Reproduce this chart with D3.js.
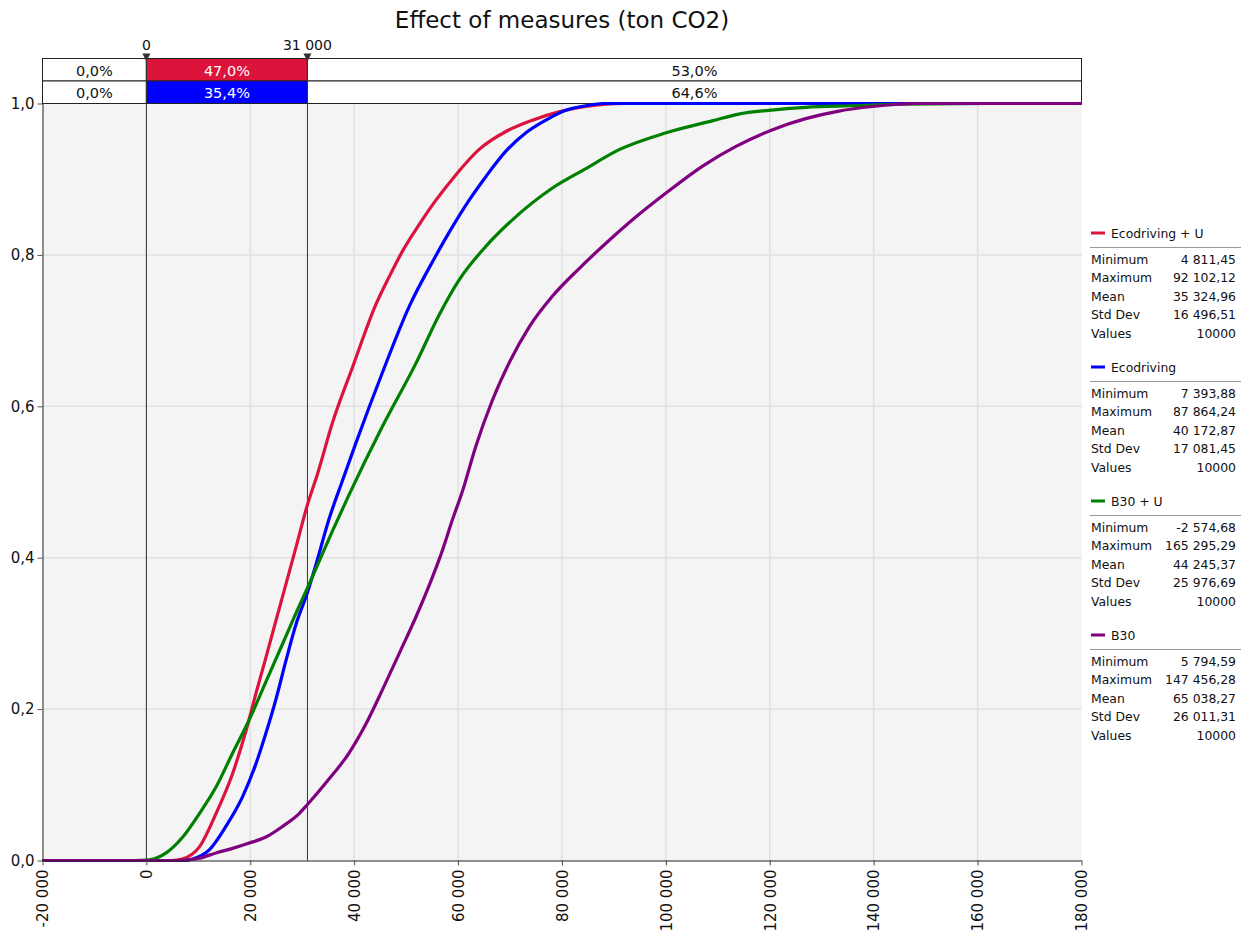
<!DOCTYPE html>
<html>
<head>
<meta charset="utf-8">
<script src="https://cdn.jsdelivr.net/npm/d3@7"></script>
<style>
  body { margin: 0; background: #fff; }
  svg { display: block; font-family: "DejaVu Sans", Tahoma, sans-serif; }
</style>
</head>
<body>
<svg id="chart" width="1247" height="934"></svg>
<script>
// series (ton CO2, cumulative probability)
const seriesNames = ["Ecodriving + U", "Ecodriving", "B30 + U", "B30"];
const seriesColors = ["#dc143c", "#0000ff", "#008000", "#800080"];

const ecoU = [[-20000,0],[4811,0],[6900,0.002],[10200,0.018],[13400,0.062],[16600,0.115],[19200,0.172],[21100,0.221],[23000,0.268],[24900,0.316],[26900,0.366],[28800,0.414],[31000,0.47],[33000,0.512],[35800,0.578],[39700,0.652],[44200,0.735],[46800,0.772],[49300,0.805],[52500,0.84],[55700,0.872],[59600,0.906],[64000,0.939],[69200,0.963],[74300,0.978],[79400,0.989],[84600,0.996],[92102,1],[180000,1]];
const eco = [[-20000,0],[7394,0],[8900,0.002],[12100,0.014],[15300,0.045],[18500,0.084],[21100,0.128],[23000,0.168],[24900,0.212],[26900,0.265],[28800,0.312],[31000,0.354],[32600,0.39],[35200,0.452],[37800,0.503],[40300,0.551],[45400,0.644],[50600,0.732],[55400,0.795],[58900,0.837],[62100,0.872],[65300,0.903],[69200,0.937],[73000,0.961],[76900,0.978],[80700,0.991],[84600,0.997],[87864,1],[180000,1]];
const b30U = [[-20000,0],[-2575,0],[600,0.001],[3800,0.01],[7000,0.031],[10200,0.062],[13400,0.097],[16600,0.142],[19800,0.186],[23000,0.236],[26200,0.286],[29400,0.336],[31000,0.36],[32600,0.385],[35800,0.435],[39000,0.483],[45400,0.573],[51900,0.657],[56300,0.72],[60200,0.767],[65300,0.811],[70400,0.846],[78100,0.888],[84600,0.914],[91000,0.939],[99900,0.961],[108900,0.977],[114000,0.986],[119800,0.991],[126900,0.995],[135800,0.997],[145400,0.999],[165295,1],[180000,1]];
const b30 = [[-20000,0],[5795,0],[8300,0.001],[10200,0.003],[13400,0.01],[16600,0.016],[19800,0.023],[23000,0.031],[26200,0.045],[29400,0.062],[31000,0.074],[34600,0.103],[39000,0.142],[42300,0.181],[45400,0.225],[48700,0.274],[51900,0.322],[55100,0.375],[57000,0.41],[58900,0.45],[60800,0.487],[63400,0.547],[66600,0.608],[69800,0.657],[73700,0.705],[78100,0.745],[83300,0.782],[88400,0.815],[94200,0.85],[99900,0.881],[107000,0.917],[113400,0.943],[120400,0.965],[126900,0.98],[133300,0.99],[139700,0.996],[145000,0.999],[147456,1],[180000,1]];

// legend statistics
const statLabels = ["Minimum", "Maximum", "Mean", "Std Dev", "Values"];
const statsEcoU = ["4 811,45", "92 102,12", "35 324,96", "16 496,51", "10000"];
const statsEco = ["7 393,88", "87 864,24", "40 172,87", "17 081,45", "10000"];
const statsB30U = ["-2 574,68", "165 295,29", "44 245,37", "25 976,69", "10000"];
const statsB30 = ["5 794,59", "147 456,28", "65 038,27", "26 011,31", "10000"];

// delimiters and the band percentages on top
const markers = [0, 31000];
const bandEcoU = [0.0, 47.0, 53.0];
const bandEco = [0.0, 35.4, 64.6];

const xTicks = d3.range(-20000, 180001, 20000);
const yTicks = [0, 0.2, 0.4, 0.6, 0.8, 1.0];

const series = [ecoU, eco, b30U, b30];
const stats = [statsEcoU, statsEco, statsB30U, statsB30];
const bands = [bandEcoU, bandEco];

const loc = d3.formatLocale({decimal: ",", thousands: " ", grouping: [3], currency: ["", ""], minus: "-"});
const fmtX = loc.format(",");
const fmtY = loc.format(".1f");

const svg = d3.select("#chart");
const plotL = 42.5, plotR = 1081.5, plotT = 103.5, plotB = 860.5;

const x = d3.scaleLinear().domain([-20000, 180000]).range([plotL, plotR]);
const y = d3.scaleLinear().domain([0, 1]).range([plotB, plotT]);

// title
svg.append("text")
  .attr("x", 562).attr("y", 28)
  .attr("text-anchor", "middle")
  .style("font-size", "23px").style("fill", "#111")
  .text("Effect of measures (ton CO2)");

// plot background
svg.append("rect")
  .attr("x", plotL).attr("y", plotT)
  .attr("width", plotR - plotL).attr("height", plotB - plotT)
  .style("fill", "#f4f4f4");

// grid
svg.append("g").selectAll("line")
  .data(xTicks.slice(1, -1))
  .join("line")
  .attr("x1", d => x(d)).attr("x2", d => x(d))
  .attr("y1", plotT).attr("y2", plotB + 4)
  .style("stroke", "#e0e0e0").style("stroke-width", 1.5);

svg.append("g").selectAll("line")
  .data(yTicks.slice(1, -1))
  .join("line")
  .attr("x1", plotL).attr("x2", plotR)
  .attr("y1", d => y(d)).attr("y2", d => y(d))
  .style("stroke", "#e0e0e0").style("stroke-width", 1.5);

// band rows above the plot
const rowH = 22.5, rowTop = plotT - 2 * rowH;
const edges = [x.domain()[0], ...markers, x.domain()[1]];
bands.forEach((vals, r) => {
  const g = svg.append("g");
  const segs = vals.map((v, i) => ({v, i, x0: x(edges[i]), x1: x(edges[i + 1])}));
  g.selectAll("rect")
    .data(segs)
    .join("rect")
    .attr("x", d => d.x0).attr("y", rowTop + r * rowH)
    .attr("width", d => d.x1 - d.x0).attr("height", rowH)
    .style("fill", d => d.i === 1 ? seriesColors[r] : "#fff")
    .style("stroke", "#222").style("stroke-width", 1);
  g.selectAll("text")
    .data(segs)
    .join("text")
    .attr("x", d => (d.x0 + d.x1) / 2)
    .attr("y", rowTop + r * rowH + 17)
    .attr("text-anchor", "middle")
    .style("font-size", "14.5px")
    .style("fill", d => d.i === 1 ? "#fff" : "#111")
    .text(d => fmtY(d.v) + "%");
});

// delimiter lines, triangles and labels
svg.append("g").selectAll("line")
  .data(markers)
  .join("line")
  .attr("x1", d => x(d)).attr("x2", d => x(d))
  .attr("y1", rowTop).attr("y2", plotB)
  .style("stroke", "#333").style("stroke-width", 1);

svg.append("g").selectAll("path")
  .data(markers)
  .join("path")
  .attr("d", d => `M${x(d) - 4},${rowTop - 5}L${x(d) + 4},${rowTop - 5}L${x(d)},${rowTop + 3}Z`)
  .style("fill", "#333");

svg.append("g").selectAll("text")
  .data(markers)
  .join("text")
  .attr("x", d => x(d)).attr("y", rowTop - 9)
  .attr("text-anchor", "middle")
  .style("font-size", "14px").style("fill", "#111")
  .text(d => fmtX(d));

// curves
const line = d3.line()
  .x(d => x(d[0]))
  .y(d => y(d[1]))
  .curve(d3.curveMonotoneX);

svg.append("g").selectAll("path")
  .data(series)
  .join("path")
  .attr("d", line)
  .style("fill", "none")
  .style("stroke", (d, i) => seriesColors[i])
  .style("stroke-width", 3.2)
  .style("stroke-linejoin", "round");

// axes
const xAxis = svg.append("g")
  .attr("transform", `translate(0,${plotB})`)
  .call(d3.axisBottom(x).tickValues(xTicks).tickFormat(fmtX).tickSize(5).tickSizeOuter(0));
xAxis.selectAll("text")
  .attr("transform", "rotate(-90)")
  .attr("x", -9).attr("y", 0).attr("dy", "0.35em")
  .style("text-anchor", "end");

const yAxis = svg.append("g")
  .attr("transform", `translate(${plotL},0)`)
  .call(d3.axisLeft(y).tickValues(yTicks).tickFormat(fmtY).tickSize(5).tickSizeOuter(0));

[xAxis, yAxis].forEach(a => {
  a.select(".domain").style("stroke", "#222");
  a.selectAll(".tick line").style("stroke", "#555");
  a.selectAll("text").style("font-size", "15px").style("font-family", "DejaVu Sans").style("fill", "#111");
});

// legend
const legend = svg.append("g").attr("transform", "translate(1090,233)");
seriesNames.forEach((name, i) => {
  const g = legend.append("g").attr("transform", `translate(0,${i * 134})`);
  g.append("line")
    .attr("x1", 1).attr("x2", 15).attr("y1", 0).attr("y2", 0)
    .style("stroke", seriesColors[i]).style("stroke-width", 3);
  g.append("text")
    .attr("x", 21).attr("y", 4.5)
    .style("font-size", "12.4px").style("fill", "#111")
    .text(name);
  g.append("line")
    .attr("x1", 0).attr("x2", 151).attr("y1", 14.5).attr("y2", 14.5)
    .style("stroke", "#999").style("stroke-width", 1);
  statLabels.forEach((lab, j) => {
    g.append("text")
      .attr("x", 1).attr("y", 30.5 + j * 18.5)
      .style("font-size", "12.4px").style("fill", "#111")
      .text(lab);
    g.append("text")
      .attr("x", 146).attr("y", 30.5 + j * 18.5)
      .attr("text-anchor", "end")
      .style("font-size", "12.4px").style("fill", "#111")
      .text(stats[i][j]);
  });
});
</script>
</body>
</html>
